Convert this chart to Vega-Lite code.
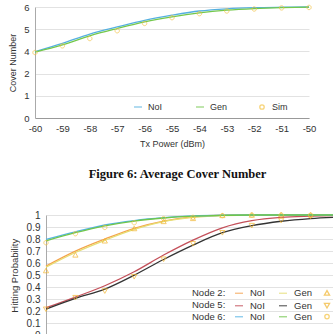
{
  "$schema": "https://vega.github.io/schema/vega-lite/v6.json",
  "padding": {"top": 2, "left": 8, "right": 0, "bottom": 0},
  "background": "white",
  "spacing": 30,
  "config": {
    "view": {"stroke": null},
    "font": "Liberation Sans",
    "axis": {"labelColor": "#333", "titleColor": "#333", "titleFontWeight": "normal", "labelFont": "Liberation Sans", "titleFont": "Liberation Sans", "labelFlush": false},
    "legend": {"labelColor": "#333", "titleColor": "#333", "labelFont": "Liberation Sans", "titleFont": "Liberation Sans", "titleFontWeight": "normal"}
  },
  "datasets": {
    "top": [
      {"x": -60, "series": "NoI", "v": 3.98}, {"x": -59, "series": "NoI", "v": 4.36}, {"x": -58, "series": "NoI", "v": 4.78}, {"x": -57, "series": "NoI", "v": 5.10}, {"x": -56, "series": "NoI", "v": 5.40}, {"x": -55, "series": "NoI", "v": 5.63}, {"x": -54, "series": "NoI", "v": 5.82}, {"x": -53, "series": "NoI", "v": 5.92}, {"x": -52, "series": "NoI", "v": 5.97}, {"x": -51, "series": "NoI", "v": 5.99}, {"x": -50, "series": "NoI", "v": 6.0},
      {"x": -60, "series": "Gen", "v": 3.93}, {"x": -59, "series": "Gen", "v": 4.29}, {"x": -58, "series": "Gen", "v": 4.70}, {"x": -57, "series": "Gen", "v": 5.03}, {"x": -56, "series": "Gen", "v": 5.33}, {"x": -55, "series": "Gen", "v": 5.56}, {"x": -54, "series": "Gen", "v": 5.74}, {"x": -53, "series": "Gen", "v": 5.86}, {"x": -52, "series": "Gen", "v": 5.93}, {"x": -51, "series": "Gen", "v": 5.97}, {"x": -50, "series": "Gen", "v": 5.99},
      {"x": -60, "series": "Sim", "v": 3.90}, {"x": -59, "series": "Sim", "v": 4.25}, {"x": -58, "series": "Sim", "v": 4.58}, {"x": -57, "series": "Sim", "v": 4.93}, {"x": -56, "series": "Sim", "v": 5.26}, {"x": -55, "series": "Sim", "v": 5.52}, {"x": -54, "series": "Sim", "v": 5.70}, {"x": -53, "series": "Sim", "v": 5.82}, {"x": -52, "series": "Sim", "v": 5.91}, {"x": -51, "series": "Sim", "v": 5.96}, {"x": -50, "series": "Sim", "v": 5.98}
    ],
    "bottom": [
      {"x": -60, "node": "Node 6", "series": "NoI", "v": 0.797}, {"x": -59, "node": "Node 6", "series": "NoI", "v": 0.86}, {"x": -58, "node": "Node 6", "series": "NoI", "v": 0.917}, {"x": -57, "node": "Node 6", "series": "NoI", "v": 0.954}, {"x": -56, "node": "Node 6", "series": "NoI", "v": 0.978}, {"x": -55, "node": "Node 6", "series": "NoI", "v": 0.992}, {"x": -54, "node": "Node 6", "series": "NoI", "v": 0.998}, {"x": -53, "node": "Node 6", "series": "NoI", "v": 1}, {"x": -52, "node": "Node 6", "series": "NoI", "v": 1}, {"x": -51, "node": "Node 6", "series": "NoI", "v": 1}, {"x": -50, "node": "Node 6", "series": "NoI", "v": 1},
      {"x": -60, "node": "Node 6", "series": "Gen", "v": 0.786}, {"x": -59, "node": "Node 6", "series": "Gen", "v": 0.853}, {"x": -58, "node": "Node 6", "series": "Gen", "v": 0.91}, {"x": -57, "node": "Node 6", "series": "Gen", "v": 0.95}, {"x": -56, "node": "Node 6", "series": "Gen", "v": 0.975}, {"x": -55, "node": "Node 6", "series": "Gen", "v": 0.99}, {"x": -54, "node": "Node 6", "series": "Gen", "v": 0.997}, {"x": -53, "node": "Node 6", "series": "Gen", "v": 1}, {"x": -52, "node": "Node 6", "series": "Gen", "v": 1}, {"x": -51, "node": "Node 6", "series": "Gen", "v": 1}, {"x": -50, "node": "Node 6", "series": "Gen", "v": 1},
      {"x": -60, "node": "Node 6", "series": "Sim", "v": 0.77}, {"x": -59, "node": "Node 6", "series": "Sim", "v": 0.845}, {"x": -58, "node": "Node 6", "series": "Sim", "v": 0.897}, {"x": -57, "node": "Node 6", "series": "Sim", "v": 0.936}, {"x": -56, "node": "Node 6", "series": "Sim", "v": 0.97}, {"x": -55, "node": "Node 6", "series": "Sim", "v": 0.98}, {"x": -54, "node": "Node 6", "series": "Sim", "v": 0.995}, {"x": -53, "node": "Node 6", "series": "Sim", "v": 1}, {"x": -52, "node": "Node 6", "series": "Sim", "v": 1}, {"x": -51, "node": "Node 6", "series": "Sim", "v": 0.998}, {"x": -50, "node": "Node 6", "series": "Sim", "v": 1},
      {"x": -60, "node": "Node 2", "series": "NoI", "v": 0.576}, {"x": -59, "node": "Node 2", "series": "NoI", "v": 0.70}, {"x": -58, "node": "Node 2", "series": "NoI", "v": 0.80}, {"x": -57, "node": "Node 2", "series": "NoI", "v": 0.89}, {"x": -56, "node": "Node 2", "series": "NoI", "v": 0.95}, {"x": -55, "node": "Node 2", "series": "NoI", "v": 0.985}, {"x": -54, "node": "Node 2", "series": "NoI", "v": 0.998}, {"x": -53, "node": "Node 2", "series": "NoI", "v": 1}, {"x": -52, "node": "Node 2", "series": "NoI", "v": 1}, {"x": -51, "node": "Node 2", "series": "NoI", "v": 1}, {"x": -50, "node": "Node 2", "series": "NoI", "v": 1},
      {"x": -60, "node": "Node 2", "series": "Gen", "v": 0.567}, {"x": -59, "node": "Node 2", "series": "Gen", "v": 0.689}, {"x": -58, "node": "Node 2", "series": "Gen", "v": 0.79}, {"x": -57, "node": "Node 2", "series": "Gen", "v": 0.88}, {"x": -56, "node": "Node 2", "series": "Gen", "v": 0.945}, {"x": -55, "node": "Node 2", "series": "Gen", "v": 0.98}, {"x": -54, "node": "Node 2", "series": "Gen", "v": 0.996}, {"x": -53, "node": "Node 2", "series": "Gen", "v": 1}, {"x": -52, "node": "Node 2", "series": "Gen", "v": 1}, {"x": -51, "node": "Node 2", "series": "Gen", "v": 1}, {"x": -50, "node": "Node 2", "series": "Gen", "v": 1},
      {"x": -60, "node": "Node 2", "series": "Sim", "v": 0.537}, {"x": -59, "node": "Node 2", "series": "Sim", "v": 0.667}, {"x": -58, "node": "Node 2", "series": "Sim", "v": 0.784}, {"x": -57, "node": "Node 2", "series": "Sim", "v": 0.886}, {"x": -56, "node": "Node 2", "series": "Sim", "v": 0.945}, {"x": -55, "node": "Node 2", "series": "Sim", "v": 0.97}, {"x": -54, "node": "Node 2", "series": "Sim", "v": 0.995}, {"x": -53, "node": "Node 2", "series": "Sim", "v": 0.998}, {"x": -52, "node": "Node 2", "series": "Sim", "v": 1}, {"x": -51, "node": "Node 2", "series": "Sim", "v": 1}, {"x": -50, "node": "Node 2", "series": "Sim", "v": 1},
      {"x": -60, "node": "Node 5", "series": "NoI", "v": 0.23}, {"x": -59, "node": "Node 5", "series": "NoI", "v": 0.319}, {"x": -58, "node": "Node 5", "series": "NoI", "v": 0.413}, {"x": -57, "node": "Node 5", "series": "NoI", "v": 0.529}, {"x": -56, "node": "Node 5", "series": "NoI", "v": 0.668}, {"x": -55, "node": "Node 5", "series": "NoI", "v": 0.792}, {"x": -54, "node": "Node 5", "series": "NoI", "v": 0.894}, {"x": -53, "node": "Node 5", "series": "NoI", "v": 0.953}, {"x": -52, "node": "Node 5", "series": "NoI", "v": 0.98}, {"x": -51, "node": "Node 5", "series": "NoI", "v": 0.99}, {"x": -50, "node": "Node 5", "series": "NoI", "v": 0.996},
      {"x": -60, "node": "Node 5", "series": "Gen", "v": 0.219}, {"x": -59, "node": "Node 5", "series": "Gen", "v": 0.308}, {"x": -58, "node": "Node 5", "series": "Gen", "v": 0.385}, {"x": -57, "node": "Node 5", "series": "Gen", "v": 0.501}, {"x": -56, "node": "Node 5", "series": "Gen", "v": 0.631}, {"x": -55, "node": "Node 5", "series": "Gen", "v": 0.75}, {"x": -54, "node": "Node 5", "series": "Gen", "v": 0.853}, {"x": -53, "node": "Node 5", "series": "Gen", "v": 0.911}, {"x": -52, "node": "Node 5", "series": "Gen", "v": 0.948}, {"x": -51, "node": "Node 5", "series": "Gen", "v": 0.97}, {"x": -50, "node": "Node 5", "series": "Gen", "v": 0.982},
      {"x": -60, "node": "Node 5", "series": "Sim", "v": 0.22}, {"x": -59, "node": "Node 5", "series": "Sim", "v": 0.316}, {"x": -58, "node": "Node 5", "series": "Sim", "v": 0.371}, {"x": -57, "node": "Node 5", "series": "Sim", "v": 0.49}, {"x": -56, "node": "Node 5", "series": "Sim", "v": 0.635}, {"x": -55, "node": "Node 5", "series": "Sim", "v": 0.764}, {"x": -54, "node": "Node 5", "series": "Sim", "v": 0.855}, {"x": -53, "node": "Node 5", "series": "Sim", "v": 0.914}, {"x": -52, "node": "Node 5", "series": "Sim", "v": 0.956}, {"x": -51, "node": "Node 5", "series": "Sim", "v": 0.99}, {"x": -50, "node": "Node 5", "series": "Sim", "v": 0.99}
    ]
  },
  "vconcat": [
    {
      "width": 263,
      "height": 111,
      "data": {"name": "top"},
      "title": {"text": "Figure 6: Average Cover Number", "orient": "bottom", "font": "Liberation Serif", "fontWeight": "bold", "fontSize": 12.5, "color": "#111", "offset": 19, "dx": 0},
      "encoding": {
        "x": {"field": "x", "type": "quantitative", "scale": {"domain": [-60, -50], "nice": false, "range": [-11, 263]},
          "axis": {"values": [-60, -59, -58, -57, -56, -55, -54, -53, -52, -51, -50], "labelExpr": "'' + datum.value", "title": "Tx Power (dBm)", "grid": false, "ticks": false, "labelPadding": 5, "labelFontSize": 9.5, "titleFontSize": 9, "titlePadding": 7, "domainColor": "#999"}},
        "y": {"field": "v", "type": "quantitative", "scale": {"domain": [0, 2, 4, 6], "range": [111, 66.6, 44.4, 0]},
          "axis": {"values": [0, 1, 2, 4, 5, 6], "title": "Cover Number", "offset": 11, "grid": true, "gridColor": "#e2e2e2", "ticks": false, "labelPadding": 6, "labelFontSize": 9.5, "titleFontSize": 9, "titlePadding": 6, "domainColor": "#aaa"}}
      },
      "layer": [
        {
          "transform": [{"filter": "datum.series !== 'Sim'"}],
          "mark": {"type": "line", "interpolate": "monotone", "strokeWidth": 1.3},
          "encoding": {
            "color": {"field": "series", "type": "nominal", "scale": {"domain": ["NoI", "Gen", "Sim"], "range": ["#55b0e0", "#74c84c", "#f5c342"]},
              "legend": {"title": null, "orient": "none", "legendX": 87, "legendY": 95, "direction": "horizontal", "columns": 3, "gridAlign": "all", "columnPadding": 27, "symbolSize": 64, "symbolStrokeWidth": 1.3, "labelFontSize": 9, "labelOffset": 5}}
          }
        },
        {
          "transform": [{"filter": "datum.series === 'Sim'"}],
          "mark": {"type": "point", "filled": false, "size": 64, "strokeWidth": 1},
          "encoding": {
            "color": {"field": "series", "type": "nominal", "scale": {"domain": ["NoI", "Gen", "Sim"], "range": ["#55b0e0", "#74c84c", "#f5c342"]},
              "legend": {"title": null, "orient": "none", "legendX": 87, "legendY": 95, "direction": "horizontal", "columns": 3, "gridAlign": "all", "columnPadding": 27, "symbolSize": 64, "symbolStrokeWidth": 1.3, "labelFontSize": 9, "labelOffset": 5}},
            "shape": {"field": "series", "type": "nominal", "scale": {"domain": ["NoI", "Gen", "Sim"], "range": ["stroke", "stroke", "M0.55,0A0.55,0.55,0,1,1,-0.55,0A0.55,0.55,0,1,1,0.55,0Z"]},
              "legend": {"title": null, "orient": "none", "legendX": 87, "legendY": 95, "direction": "horizontal", "columns": 3, "gridAlign": "all", "columnPadding": 27, "symbolSize": 64, "symbolStrokeWidth": 1.3, "labelFontSize": 9, "labelOffset": 5}}
          }
        }
      ]
    },
    {
      "width": 294,
      "height": 120.5,
      "data": {"name": "bottom"},
      "encoding": {
        "x": {"field": "x", "type": "quantitative", "scale": {"domain": [-60, -50], "nice": false},
          "axis": {"values": [-60, -59, -58, -57, -56, -55, -54, -53, -52, -51, -50], "labelExpr": "'' + datum.value", "title": "Tx Power (dBm)", "grid": false, "ticks": false, "labelPadding": 9, "labelFontSize": 10, "titleFontSize": 9, "domainColor": "#999"}},
        "y": {"field": "v", "type": "quantitative", "scale": {"domain": [0, 1], "nice": false},
          "axis": {"values": [0, 0.1, 0.2, 0.3, 0.4, 0.5, 0.6, 0.7, 0.8, 0.9, 1], "labelExpr": "'' + datum.value", "title": "Hitting Probability", "grid": true, "gridColor": "#e2e2e2", "ticks": false, "labelPadding": 6, "labelFontSize": 10, "titleFontSize": 9.5, "titlePadding": 7, "domainColor": "#aaa"}}
      },
      "resolve": {"scale": {"color": "independent", "shape": "independent"}, "legend": {"color": "independent", "shape": "independent"}},
      "layer": [
        {
          "transform": [{"filter": "datum.node === 'Node 2'"}],
          "layer": [
            {
              "transform": [{"filter": "datum.series !== 'Sim'"}],
              "mark": {"type": "line", "interpolate": "monotone", "strokeWidth": 1.3},
              "encoding": {
                "color": {"field": "series", "type": "nominal", "scale": {"domain": ["NoI", "Gen", "Sim"], "range": ["#f5a24c", "#e6de72", "#f2b52e"]},
                  "legend": {"title": "Node 2:", "titleOrient": "left", "titleFontSize": 9.5, "titlePadding": 8, "orient": "none", "legendX": 146, "legendY": 73, "direction": "horizontal", "columns": 3, "gridAlign": "all", "columnPadding": 8, "symbolSize": 64, "symbolStrokeWidth": 1.3, "labelFontSize": 9.5, "labelOffset": 6}}
              }
            },
            {
              "transform": [{"filter": "datum.series === 'Sim'"}],
              "mark": {"type": "point", "filled": false, "size": 64, "strokeWidth": 1},
              "encoding": {
                "color": {"field": "series", "type": "nominal", "scale": {"domain": ["NoI", "Gen", "Sim"], "range": ["#f5a24c", "#e6de72", "#f2b52e"]},
                  "legend": {"title": "Node 2:", "titleOrient": "left", "titleFontSize": 9.5, "titlePadding": 8, "orient": "none", "legendX": 146, "legendY": 73, "direction": "horizontal", "columns": 3, "gridAlign": "all", "columnPadding": 8, "symbolSize": 64, "symbolStrokeWidth": 1.3, "labelFontSize": 9.5, "labelOffset": 6}},
                "shape": {"field": "series", "type": "nominal", "scale": {"domain": ["NoI", "Gen", "Sim"], "range": ["stroke", "stroke", "M0,-0.65L0.65,0.5L-0.65,0.5Z"]},
                  "legend": {"title": "Node 2:", "titleOrient": "left", "titleFontSize": 9.5, "titlePadding": 8, "orient": "none", "legendX": 146, "legendY": 73, "direction": "horizontal", "columns": 3, "gridAlign": "all", "columnPadding": 8, "symbolSize": 64, "symbolStrokeWidth": 1.3, "labelFontSize": 9.5, "labelOffset": 6}}
              }
            }
          ]
        },
        {
          "transform": [{"filter": "datum.node === 'Node 5'"}],
          "layer": [
            {
              "transform": [{"filter": "datum.series !== 'Sim'"}],
              "mark": {"type": "line", "interpolate": "monotone", "strokeWidth": 1.3},
              "encoding": {
                "color": {"field": "series", "type": "nominal", "scale": {"domain": ["NoI", "Gen", "Sim"], "range": ["#c4505a", "#333333", "#f2b52e"]},
                  "legend": {"title": "Node 5:", "titleOrient": "left", "titleFontSize": 9.5, "titlePadding": 8, "orient": "none", "legendX": 146, "legendY": 85, "direction": "horizontal", "columns": 3, "gridAlign": "all", "columnPadding": 8, "symbolSize": 64, "symbolStrokeWidth": 1.3, "labelFontSize": 9.5, "labelOffset": 6}}
              }
            },
            {
              "transform": [{"filter": "datum.series === 'Sim'"}],
              "mark": {"type": "point", "filled": false, "size": 64, "strokeWidth": 1},
              "encoding": {
                "color": {"field": "series", "type": "nominal", "scale": {"domain": ["NoI", "Gen", "Sim"], "range": ["#c4505a", "#333333", "#f2b52e"]},
                  "legend": {"title": "Node 5:", "titleOrient": "left", "titleFontSize": 9.5, "titlePadding": 8, "orient": "none", "legendX": 146, "legendY": 85, "direction": "horizontal", "columns": 3, "gridAlign": "all", "columnPadding": 8, "symbolSize": 64, "symbolStrokeWidth": 1.3, "labelFontSize": 9.5, "labelOffset": 6}},
                "shape": {"field": "series", "type": "nominal", "scale": {"domain": ["NoI", "Gen", "Sim"], "range": ["stroke", "stroke", "M0,0.65L0.65,-0.5L-0.65,-0.5Z"]},
                  "legend": {"title": "Node 5:", "titleOrient": "left", "titleFontSize": 9.5, "titlePadding": 8, "orient": "none", "legendX": 146, "legendY": 85, "direction": "horizontal", "columns": 3, "gridAlign": "all", "columnPadding": 8, "symbolSize": 64, "symbolStrokeWidth": 1.3, "labelFontSize": 9.5, "labelOffset": 6}}
              }
            }
          ]
        },
        {
          "transform": [{"filter": "datum.node === 'Node 6'"}],
          "layer": [
            {
              "transform": [{"filter": "datum.series !== 'Sim'"}],
              "mark": {"type": "line", "interpolate": "monotone", "strokeWidth": 1.3},
              "encoding": {
                "color": {"field": "series", "type": "nominal", "scale": {"domain": ["NoI", "Gen", "Sim"], "range": ["#55b4e6", "#70c64a", "#f5c342"]},
                  "legend": {"title": "Node 6:", "titleOrient": "left", "titleFontSize": 9.5, "titlePadding": 8, "orient": "none", "legendX": 146, "legendY": 96.5, "direction": "horizontal", "columns": 3, "gridAlign": "all", "columnPadding": 8, "symbolSize": 64, "symbolStrokeWidth": 1.3, "labelFontSize": 9.5, "labelOffset": 6}}
              }
            },
            {
              "transform": [{"filter": "datum.series === 'Sim'"}],
              "mark": {"type": "point", "filled": false, "size": 64, "strokeWidth": 1},
              "encoding": {
                "color": {"field": "series", "type": "nominal", "scale": {"domain": ["NoI", "Gen", "Sim"], "range": ["#55b4e6", "#70c64a", "#f5c342"]},
                  "legend": {"title": "Node 6:", "titleOrient": "left", "titleFontSize": 9.5, "titlePadding": 8, "orient": "none", "legendX": 146, "legendY": 96.5, "direction": "horizontal", "columns": 3, "gridAlign": "all", "columnPadding": 8, "symbolSize": 64, "symbolStrokeWidth": 1.3, "labelFontSize": 9.5, "labelOffset": 6}},
                "shape": {"field": "series", "type": "nominal", "scale": {"domain": ["NoI", "Gen", "Sim"], "range": ["stroke", "stroke", "M0.55,0A0.55,0.55,0,1,1,-0.55,0A0.55,0.55,0,1,1,0.55,0Z"]},
                  "legend": {"title": "Node 6:", "titleOrient": "left", "titleFontSize": 9.5, "titlePadding": 8, "orient": "none", "legendX": 146, "legendY": 96.5, "direction": "horizontal", "columns": 3, "gridAlign": "all", "columnPadding": 8, "symbolSize": 64, "symbolStrokeWidth": 1.3, "labelFontSize": 9.5, "labelOffset": 6}}
              }
            }
          ]
        }
      ]
    }
  ]
}
